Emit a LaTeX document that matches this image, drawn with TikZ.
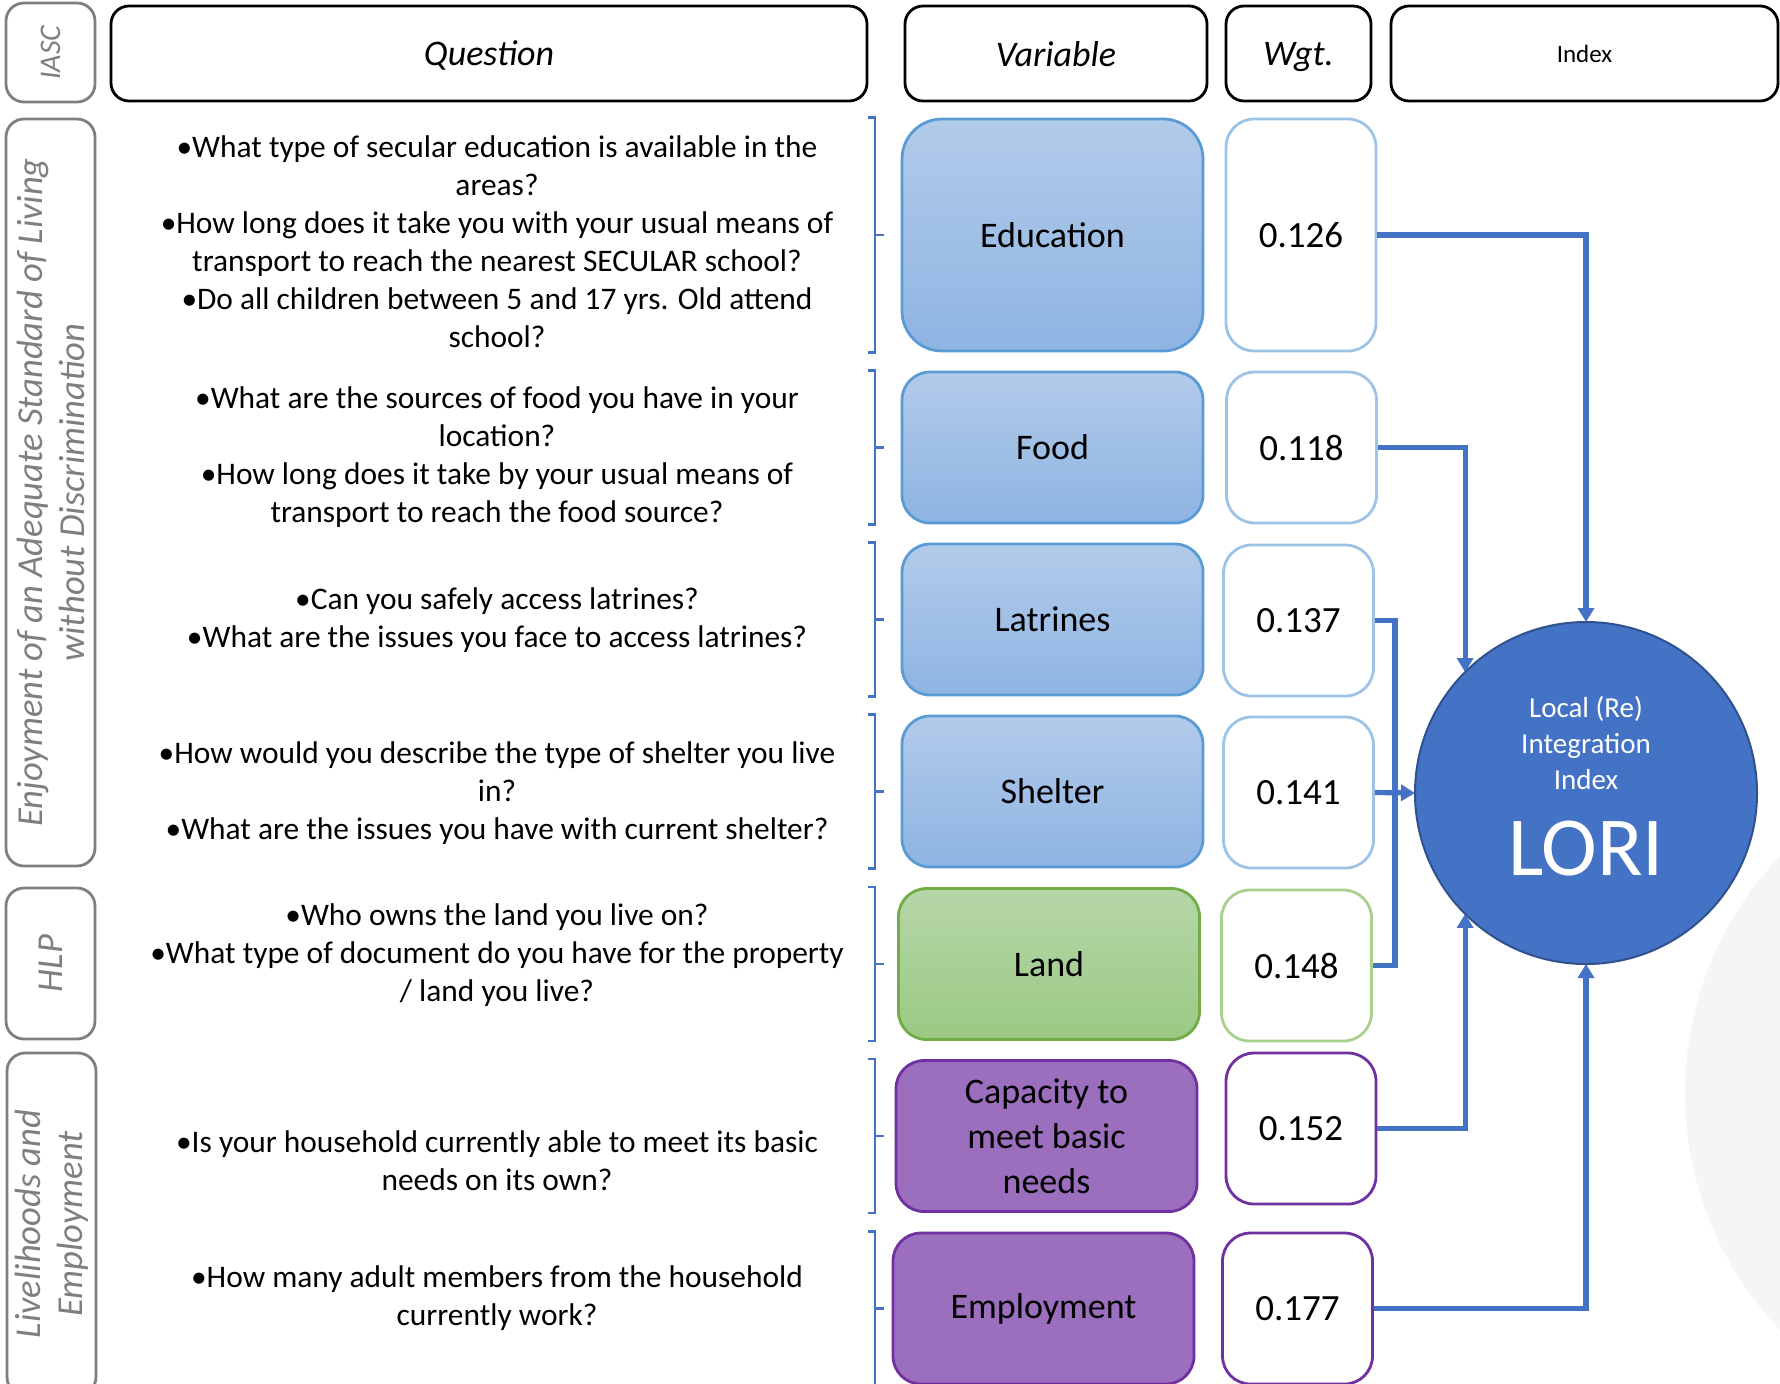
\documentclass[tikz,border=0pt]{standalone}
\usepackage{fontspec}
\setmainfont{Carlito}
\usetikzlibrary{arrows.meta}

\definecolor{linkblue}{HTML}{4472C4}
\definecolor{loriedge}{HTML}{2F528F}
\definecolor{sidegray}{HTML}{7F7F7F}
\definecolor{blueedge}{HTML}{5B9BD5}
\definecolor{bluetop}{HTML}{B2CBEA}
\definecolor{bluebot}{HTML}{8EB4E2}
\definecolor{greenedge}{HTML}{70AD47}
\definecolor{greentop}{HTML}{B6D6A8}
\definecolor{greenbot}{HTML}{9BCA84}
\definecolor{purpleedge}{HTML}{7030A0}
\definecolor{purplefill}{HTML}{9C6FBE}
\definecolor{wblue}{HTML}{9DC3E6}
\definecolor{wgreen}{HTML}{A9D18E}

\begin{document}
\begin{tikzpicture}[x=0.5pt, y=-0.5pt, >={Triangle[width=8pt,length=7pt]},
	headbox/.style={draw=black, line width=1.4pt, rounded corners=9pt, minimum height=47.5pt, inner sep=0pt, text depth=0pt, font=\fontsize{18}{22}\selectfont\itshape},
	sidebox/.style={draw=sidegray, line width=1.4pt, rounded corners=9pt, rotate=90, inner sep=0pt, minimum height=44.5pt, align=center, text=sidegray, font=\fontsize{18.3}{21}\selectfont\itshape},
	question/.style={align=center, font=\fontsize{15.7}{19}\selectfont},
	varbox/.style={line width=1.4pt, rounded corners=14pt, minimum width=150.5pt, minimum height=75.5pt, inner sep=0pt, align=center, font=\fontsize{18}{22.5}\selectfont},
	bluevar/.style={varbox, draw=blueedge, top color=bluetop, bottom color=bluebot},
	greenvar/.style={varbox, draw=greenedge, top color=greentop, bottom color=greenbot},
	purplevar/.style={varbox, draw=purpleedge, fill=purplefill},
	wgtbox/.style={line width=1.4pt, rounded corners=14pt, fill=white, minimum width=75pt, minimum height=75.5pt, inner sep=0pt, font=\fontsize{18.5}{22}\selectfont},
	lori/.style={circle, draw=loriedge, line width=1pt, fill=linkblue, minimum size=171pt, inner sep=0pt, outer sep=0pt},
	loritag/.style={align=center, text=white, font=\fontsize{14.5}{18}\selectfont},
	lorimark/.style={text=white, inner sep=0pt, font=\fontsize{42}{42}\selectfont},
	link/.style={draw=linkblue, line width=2.6pt},
	bracket/.style={draw=linkblue, line width=1.2pt}]

	\useasboundingbox (0,0) rectangle (1780,1383);
	\clip (0,0) rectangle (1780,1383);
	\fill[black!4] (2028,1093) circle [radius=343];

	% Headers {IASC, Question, Variable, Wgt., Index}
	\node [sidebox, minimum width=49.5pt, font=\fontsize{15}{18}\selectfont\itshape] (iasc) at (50.5,52.5) {IASC};
	\node [headbox, minimum width=378pt]	(qhead)	at (489,53.5)	{Question};
	\node [headbox, minimum width=151pt]	(vhead)	at (1056,53.5)	{Variable};
	\node [headbox, minimum width=72.5pt]	(whead)	at (1298.5,53.5)	{Wgt.};
	\node [headbox, minimum width=193.5pt, font=\fontsize{12.5}{15}\selectfont] (ihead) at (1584.5,53.5) {Index};

	% Side labels
	\node [sidebox, minimum width=373.5pt]	(enjoy)	at (50.5,492.5)	{Enjoyment of an Adequate Standard of Living\\without Discrimination};
	\node [sidebox, minimum width=75.5pt]	(hlp)	at (50.5,963.5)	{HLP};
	\node [sidebox, minimum width=171pt]	(liveli)	at (51.5,1224)	{Livelihoods and\\Employment};

	% Questions
	\node [question] (qedu)  at (497,242)  {•What type of secular education is available in the\\areas?\\•How long does it take you with your usual means of\\transport to reach the nearest SECULAR school?\\•Do all children between 5 and 17 yrs. Old attend\\school?};
	\node [question] (qfood) at (497,457)  {•What are the sources of food you have in your\\location?\\•How long does it take by your usual means of\\transport to reach the food source?};
	\node [question] (qlatr) at (497,620)  {•Can you safely access latrines?\\•What are the issues you face to access latrines?};
	\node [question] (qshel) at (497,793)  {•How would you describe the type of shelter you live\\in?\\•What are the issues you have with current shelter?};
	\node [question] (qland) at (497,955)  {•Who owns the land you live on?\\•What type of document do you have for the property\\/ land you live?};
	\node [question] (qcap)  at (497,1161) {•Is your household currently able to meet its basic\\needs on its own?};
	\node [question] (qemp)  at (497,1298) {•How many adult members from the household\\currently work?};

	% Variables
	\node [bluevar, minimum height=116pt, rounded corners=20pt] (edu) at (1052.5,235) {Education};
	\node [bluevar]		(food)	at (1052.5,447.5)	{Food};
	\node [bluevar]		(latr)	at (1052.5,619.5)	{Latrines};
	\node [bluevar]		(shel)	at (1052.5,791.5)	{Shelter};
	\node [greenvar]	(land)	at (1049,964)		{Land};
	\node [purplevar]	(cap)	at (1046.5,1136)	{Capacity to\\meet basic\\needs};
	\node [purplevar]	(emp)	at (1043.5,1308.5)	{Employment};

	% Weights
	\node [wgtbox, draw=wblue, minimum height=116pt] (w1) at (1301,235) {0.126};
	\node [wgtbox, draw=wblue]		(w2)	at (1301.5,447.5)	{0.118};
	\node [wgtbox, draw=wblue]		(w3)	at (1298.5,620.5)	{0.137};
	\node [wgtbox, draw=wblue]		(w4)	at (1298.5,792.5)	{0.141};
	\node [wgtbox, draw=wgreen]		(w5)	at (1296.5,965.5)	{0.148};
	\node [wgtbox, draw=purpleedge]	(w6)	at (1301,1128.5)	{0.152};
	\node [wgtbox, draw=purpleedge]	(w7)	at (1297.5,1308.5)	{0.177};

	% Index
	\node [lori] (lori) at (1586,793) {};
	\node [loritag]  at ([yshift=25pt]lori.center)  {Local (Re)\\Integration\\Index};
	\node [lorimark] at ([yshift=-28pt]lori.center) {LORI};

	% Brackets
	\coordinate (bl) at (868,0);
	\coordinate (bm) at (875,0);
	\coordinate (br) at (884,0);
	\foreach \v in {edu,food,latr,shel,land,cap,emp}
		\draw [bracket] (\v.north -| bl) -- (\v.north -| bm) -- (\v.south -| bm) -- (\v.south -| bl)
			(\v.west -| bm) -- (\v.west -| br);

	% Paths
	\coordinate (jn) at ([xshift=10pt]w4.east);
	\draw [link, ->]	(w1.east) -| (lori.north);
	\draw [link, ->]	(w2.east) -| (lori.north west);
	\draw [link]		(w3.east) -| (jn) |- (w5.east);
	\draw [link, ->]	(w4.east) -- (lori.west);
	\draw [link, ->]	(w6.east) -| (lori.south west);
	\draw [link, ->]	(w7.east) -| (lori.south);
\end{tikzpicture}
\end{document}
